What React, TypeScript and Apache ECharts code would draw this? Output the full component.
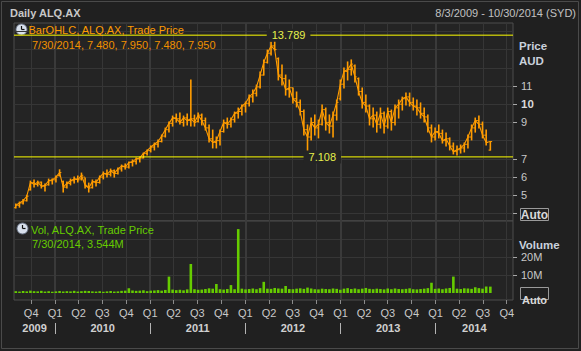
import React, { useEffect, useRef } from 'react';
import * as echarts from 'echarts';

const FONT = '"Liberation Sans", Arial, sans-serif';

const dates = [
  '2009-08-03','2009-08-17','2009-08-31','2009-09-14','2009-09-28','2009-10-12','2009-10-26','2009-11-09','2009-11-23','2009-12-07','2009-12-21',
  '2010-01-04','2010-01-18','2010-02-01','2010-02-15','2010-03-01','2010-03-15','2010-03-29','2010-04-12','2010-04-26','2010-05-10','2010-05-24','2010-06-07','2010-06-21','2010-07-05','2010-07-19','2010-08-02','2010-08-16','2010-08-30','2010-09-13','2010-09-27','2010-10-11','2010-10-25','2010-11-08','2010-11-22','2010-12-06','2010-12-20',
  '2011-01-03','2011-01-17','2011-01-31','2011-02-14','2011-02-28','2011-03-14','2011-03-28','2011-04-11','2011-04-25','2011-05-09','2011-05-23','2011-06-06','2011-06-20','2011-07-04','2011-07-18','2011-08-01','2011-08-15','2011-08-29','2011-09-12','2011-09-26','2011-10-10','2011-10-24','2011-11-07','2011-11-21','2011-12-05','2011-12-19',
  '2012-01-02','2012-01-16','2012-01-30','2012-02-13','2012-02-27','2012-03-12','2012-03-26','2012-04-09','2012-04-23','2012-05-07','2012-05-21','2012-06-04','2012-06-18','2012-07-02','2012-07-16','2012-07-30','2012-08-13','2012-08-27','2012-09-10','2012-09-24','2012-10-08','2012-10-22','2012-11-05','2012-11-19','2012-12-03','2012-12-17','2012-12-31',
  '2013-01-14','2013-01-28','2013-02-11','2013-02-25','2013-03-11','2013-03-25','2013-04-08','2013-04-22','2013-05-06','2013-05-20','2013-06-03','2013-06-17','2013-07-01','2013-07-15','2013-07-29','2013-08-12','2013-08-26','2013-09-09','2013-09-23','2013-10-07','2013-10-21','2013-11-04','2013-11-18','2013-12-02','2013-12-16','2013-12-30',
  '2014-01-13','2014-01-27','2014-02-10','2014-02-24','2014-03-10','2014-03-24','2014-04-07','2014-04-21','2014-05-05','2014-05-19','2014-06-02','2014-06-16','2014-06-30','2014-07-14','2014-07-30'
];

const opens = [
  4.32,4.45,4.58,4.70,5.30,5.70,5.60,5.72,5.50,5.58,5.80,
  5.85,6.08,5.75,5.45,5.65,5.80,5.90,5.90,6.00,5.50,5.42,5.75,5.70,6.00,6.20,6.15,6.35,6.20,6.45,6.60,6.55,6.80,6.85,7.00,7.05,7.30,
  7.45,7.65,7.80,7.95,8.25,8.60,8.95,9.25,9.20,9.00,9.25,9.10,9.20,9.05,9.40,9.10,8.70,8.10,7.90,8.00,8.50,9.00,8.90,9.15,9.50,9.60,
  9.90,10.05,10.40,10.60,10.95,11.60,12.30,12.80,13.20,12.50,11.60,11.40,10.80,10.90,10.30,10.10,9.60,8.60,8.20,9.00,8.70,8.90,9.70,9.00,8.80,9.40,10.30,
  11.10,11.80,11.90,12.10,11.40,10.70,10.10,9.90,9.20,9.40,8.90,9.50,8.80,9.60,9.00,9.80,10.00,10.30,10.40,10.10,9.90,9.80,9.50,9.30,8.70,8.20,
  8.50,8.40,8.00,8.10,7.70,7.40,7.50,7.60,7.80,8.20,8.70,9.10,8.90,8.30,7.48
];
const highs = [
  4.52,4.63,4.77,5.00,5.78,5.84,5.78,5.73,5.62,5.89,5.90,
  6.06,6.40,5.78,5.73,5.89,6.00,6.06,6.22,5.95,5.67,5.84,5.84,6.06,6.28,6.39,6.44,6.39,6.50,6.66,6.72,6.83,6.94,7.05,7.10,7.32,7.49,
  7.71,7.87,8.04,8.31,8.69,9.02,9.35,9.46,9.52,9.35,9.46,11.33,9.40,9.52,9.46,9.24,8.86,8.58,8.20,8.58,9.13,9.24,9.24,9.57,9.79,9.96,
  10.12,10.50,10.78,11.05,11.77,12.43,12.97,13.41,13.789,12.54,12.15,11.60,11.33,10.89,10.67,10.23,9.68,8.86,9.24,9.41,9.13,9.96,9.79,9.41,9.57,10.23,11.33,
  11.99,12.32,12.43,12.15,11.44,10.89,10.50,9.96,9.79,9.57,9.79,9.57,9.79,9.68,9.96,10.23,10.39,10.61,10.61,10.34,10.23,10.07,9.79,9.41,8.86,8.69,
  8.86,8.58,8.42,8.15,7.87,7.71,7.76,7.87,8.31,8.86,9.24,9.35,9.02,8.58,7.95
];
const lows = [
  4.30,4.35,4.52,4.69,5.29,5.45,5.51,5.40,5.24,5.56,5.62,
  5.73,6.06,5.18,5.40,5.57,5.67,5.73,5.84,5.40,5.18,5.40,5.51,5.67,5.90,6.00,6.06,6.00,6.17,6.33,6.44,6.50,6.61,6.72,6.83,7.05,7.21,
  7.38,7.49,7.65,7.93,8.20,8.47,8.80,9.02,8.91,8.80,8.86,8.80,8.80,9.02,8.86,8.58,7.93,7.60,7.60,7.76,8.47,8.69,8.75,9.02,9.24,9.41,
  9.57,9.90,10.12,10.45,10.89,11.60,12.26,12.70,12.97,11.33,11.05,10.50,10.39,10.07,9.85,9.41,8.31,7.108,8.04,8.31,8.15,8.86,8.58,8.42,8.20,9.13,10.23,
  10.89,11.33,11.60,11.22,10.50,9.79,9.57,8.86,8.75,8.47,8.69,8.42,8.69,8.58,8.86,9.24,9.68,9.96,9.90,9.68,9.41,9.24,9.02,8.47,7.93,8.04,
  8.15,7.87,7.71,7.49,7.27,7.21,7.32,7.38,7.60,8.04,8.47,8.69,8.15,7.76,7.48
];
const closes = [
  4.45,4.58,4.70,4.95,5.70,5.60,5.72,5.50,5.55,5.80,5.85,
  6.00,6.25,5.45,5.65,5.80,5.90,5.85,6.10,5.55,5.40,5.75,5.70,6.00,6.20,6.15,6.35,6.20,6.45,6.60,6.55,6.80,6.85,7.00,7.05,7.30,7.45,
  7.65,7.80,7.95,8.25,8.60,8.95,9.25,9.20,9.00,9.25,9.10,9.20,9.00,9.40,9.10,8.70,8.10,7.90,8.00,8.50,9.00,8.90,9.15,9.50,9.60,9.90,
  10.05,10.40,10.60,10.95,11.60,12.30,12.80,13.20,13.00,11.60,11.40,10.80,10.90,10.30,10.10,9.60,8.60,8.20,9.00,8.70,8.90,9.70,9.00,8.80,9.40,10.10,11.10,
  11.80,11.90,12.20,11.50,10.70,10.10,9.90,9.20,9.40,8.90,9.50,8.80,9.60,9.00,9.80,10.00,10.30,10.40,10.10,9.90,9.80,9.50,9.30,8.70,8.20,8.50,
  8.40,8.00,8.10,7.70,7.40,7.50,7.60,7.80,8.20,8.70,9.10,8.90,8.30,7.90,7.95
];
// volume in millions of shares
const volumes = [
  1.0,0.8,1.1,0.9,1.3,1.0,0.9,1.2,0.8,1.0,0.7,
  0.9,1.1,0.8,1.0,0.9,1.2,0.8,1.0,1.2,1.1,0.9,0.8,1.0,0.7,0.9,1.1,0.8,0.9,1.2,1.3,2.7,1.4,1.2,1.3,1.5,1.0,
  1.3,1.4,1.6,1.3,1.7,9.1,1.9,1.6,1.8,1.5,2.0,16.1,2.1,1.8,1.9,2.2,2.6,2.4,5.0,2.1,1.9,2.2,4.4,2.1,35.5,2.4,
  2.0,2.2,2.5,2.1,2.7,6.2,2.4,2.3,2.8,2.5,2.4,3.9,2.2,2.1,2.4,2.6,2.3,3.0,2.5,2.1,2.0,2.4,2.2,2.1,2.5,2.3,1.8,
  2.4,2.7,2.2,2.5,2.1,2.4,2.8,2.3,2.1,2.4,2.2,2.0,2.5,2.1,2.5,2.2,2.1,2.3,2.6,2.1,2.0,2.2,2.4,2.7,5.7,2.3,
  2.5,2.1,2.5,2.8,9.1,2.4,2.2,2.6,2.5,2.3,3.2,2.7,2.4,3.6,3.544
];

const quarterStarts = [
  '2009-10-01','2010-01-01','2010-04-01','2010-07-01','2010-10-01','2011-01-01','2011-04-01','2011-07-01','2011-10-01',
  '2012-01-01','2012-04-01','2012-07-01','2012-10-01','2013-01-01','2013-04-01','2013-07-01','2013-10-01',
  '2014-01-01','2014-04-01','2014-07-01','2014-10-01'
];
const yearStarts = ['2010-01-01','2011-01-01','2012-01-01','2013-01-01','2014-01-01'];
const yearLabels = ['2009','2010','2011','2012','2013','2014'];
const xRange = ['2009-07-27','2014-10-25'];
const priceRange = [3.59, 14.457];
const priceGridValues = [4,5,6,7,8,9,10,11,12,13,14];
const priceTickValues = [4,5,6,7,9,10,11];
const priceLabelValues = [5,6,7,9,10,11];
const volRange = [-3.89, 40];
const volGridValues = [10,20,30];
const volLabelValues = [10,20];

const ts = (s: string) => {
  const [y, m, d] = s.split('-').map(Number);
  return Date.UTC(y, m - 1, d);
};

const fmtDate = (s: string) => {
  const [y, m, d] = s.split('-').map(Number);
  return `${m}/${d}/${y}`;
};

export default function App() {
  const ref = useRef<HTMLDivElement>(null);
  useEffect(() => {
    document.body.style.margin = '0';
    document.body.style.background = '#202020';
    if (!ref.current) return;
    const chart = echarts.init(ref.current, undefined, { renderer: 'svg' });

    const xMin = ts(xRange[0]);
    const xMax = ts(xRange[1]);
    const qTs = quarterStarts.map(ts);
    const yTs = yearStarts.map(ts);
    const bounds = [xMin, ...yTs, xMax];
    const midYears = yearLabels.map((_, i) => (bounds[i] + bounds[i + 1]) / 2);

    const ohlc = dates.map((d, i) => [ts(d), opens[i], highs[i], lows[i], closes[i]]);
    const closeLine = dates.map((d, i) => [ts(d), closes[i]]);
    const volData = dates.map((d, i) => [ts(d), volumes[i]]);
    const last = dates.length - 1;
    const maxHigh = Math.max(...highs);
    const iMax = highs.indexOf(maxHigh);
    // lowest low since the peak
    const lowsAfter = lows.slice(iMax);
    const minLow = Math.min(...lowsAfter);
    const iMin = iMax + lowsAfter.indexOf(minLow);

    const gridLine = { show: true, lineStyle: { color: '#363636', width: 1 } };
    const yearLine = { show: true, lineStyle: { color: '#3a3a3a', width: 2 } };
    const xBase: any = {
      type: 'value', min: xMin, max: xMax,
      axisLine: { show: false, onZero: false },
      axisLabel: { show: false },
      splitLine: { show: false },
    };
    const labelColor = '#c8c8c8';
    const headColor = '#c9d1dc';
    const orange = '#ff9c00';
    const yellow = '#ffff00';

    const qFormatter = (v: number) => 'Q' + (Math.floor(new Date(v).getUTCMonth() / 3) + 1);
    const yFormatter = (v: number) => {
      let best = 0;
      midYears.forEach((m, i) => { if (Math.abs(m - v) < Math.abs(midYears[best] - v)) best = i; });
      return yearLabels[best];
    };

    const clock = (cx: number, cy: number) => ({
      type: 'group',
      children: [
        { type: 'circle', shape: { cx, cy, r: 5.5 }, style: { fill: '#d8e0ec', stroke: '#6a7486', lineWidth: 1 } },
        { type: 'line', shape: { x1: cx, y1: cy, x2: cx, y2: cy - 3.5 }, style: { stroke: '#111', lineWidth: 1.2 } },
        { type: 'line', shape: { x1: cx, y1: cy, x2: cx + 3, y2: cy }, style: { stroke: '#111', lineWidth: 1.2 } },
      ],
    });

    const levelSeries = (v: number) => ({
      type: 'line', xAxisIndex: 0, yAxisIndex: 0, data: [[xMin, v], [xMax, v]],
      symbol: 'none', silent: true, z: 4, color: yellow,
      lineStyle: { color: yellow, width: 1, type: 'solid' },
    });

    const option: any = {
      animation: false,
      backgroundColor: '#202020',
      textStyle: { fontFamily: FONT },
      grid: [
        { left: 14, top: 23, width: 499, height: 198, show: true, backgroundColor: '#242424', borderColor: '#4c4c4c', borderWidth: 1 },
        { left: 14, top: 221, width: 499, height: 79, show: true, backgroundColor: '#242424', borderColor: '#4c4c4c', borderWidth: 1 },
      ],
      xAxis: [
        { ...xBase, gridIndex: 0, position: 'bottom', axisTick: { show: false, customValues: qTs }, splitLine: gridLine },
        { ...xBase, gridIndex: 0, position: 'top', axisTick: { show: false, customValues: yTs }, splitLine: yearLine },
        {
          ...xBase, gridIndex: 1, position: 'bottom',
          axisTick: { show: true, customValues: qTs, length: 4, lineStyle: { color: '#8c8c8c' } },
          axisLabel: { show: true, customValues: qTs, formatter: qFormatter, color: labelColor, fontSize: 11, fontFamily: FONT, margin: 7 },
          splitLine: gridLine,
        },
        {
          ...xBase, gridIndex: 1, position: 'bottom',
          axisTick: { show: false, customValues: yTs },
          axisLabel: { show: true, customValues: midYears, formatter: yFormatter, color: '#d0d0d0', fontWeight: 'bold', fontSize: 11, fontFamily: FONT, margin: 22 },
          splitLine: yearLine,
        },
        {
          ...xBase, gridIndex: 1, position: 'bottom', offset: 23,
          axisTick: { show: true, customValues: yTs, length: 11, lineStyle: { color: '#b4b4b4' } },
        },
      ],
      yAxis: [
        {
          gridIndex: 0, type: 'value', position: 'right', min: priceRange[0], max: priceRange[1],
          axisLine: { show: false, onZero: false }, axisTick: { show: false, customValues: priceGridValues },
          axisLabel: { show: false }, splitLine: gridLine,
        },
        {
          gridIndex: 0, type: 'value', position: 'right', min: priceRange[0], max: priceRange[1],
          axisLine: { show: false, onZero: false },
          axisTick: { show: true, customValues: priceTickValues, length: 4, lineStyle: { color: '#a8a8a8' } },
          axisLabel: {
            show: true, customValues: priceLabelValues, margin: 8, color: labelColor, fontSize: 11, fontFamily: FONT,
            formatter: (v: number) => (v === 10 ? '{b|10}' : String(v)),
            rich: { b: { fontWeight: 'bold', color: '#d8d8d8', fontSize: 11.5, fontFamily: FONT } },
          },
          splitLine: { show: false },
        },
        {
          gridIndex: 1, type: 'value', position: 'right', min: volRange[0], max: volRange[1],
          axisLine: { show: false, onZero: false }, axisTick: { show: false, customValues: volGridValues },
          axisLabel: { show: false }, splitLine: gridLine,
        },
        {
          gridIndex: 1, type: 'value', position: 'right', min: volRange[0], max: volRange[1],
          axisLine: { show: false, onZero: false },
          axisTick: { show: true, customValues: volLabelValues, length: 4, lineStyle: { color: '#a8a8a8' } },
          axisLabel: {
            show: true, customValues: volLabelValues, margin: 8, color: labelColor, fontSize: 11, lineHeight: 11,
            fontFamily: FONT, formatter: (v: number) => v + 'M',
          },
          splitLine: { show: false },
        },
      ],
      series: [
        {
          type: 'custom', name: 'BarOHLC', xAxisIndex: 0, yAxisIndex: 0, data: ohlc,
          encode: { x: 0, y: [1, 2, 3, 4] }, silent: true, z: 2,
          renderItem: (params: any, api: any) => {
            const t = api.value(0);
            const o = api.coord([t, api.value(1)]);
            const h = api.coord([t, api.value(2)]);
            const l = api.coord([t, api.value(3)]);
            const c = api.coord([t, api.value(4)]);
            const x = o[0];
            const style = { stroke: orange, lineWidth: 1.6 };
            return {
              type: 'group',
              children: [
                { type: 'line', shape: { x1: x, y1: h[1] - 0.5, x2: x, y2: l[1] + 0.5 }, style },
                { type: 'line', shape: { x1: x - 1.8, y1: o[1], x2: x, y2: o[1] }, style: { stroke: orange, lineWidth: 1 } },
                { type: 'line', shape: { x1: x, y1: c[1], x2: x + 1.8, y2: c[1] }, style: { stroke: orange, lineWidth: 1 } },
              ],
            };
          },
        },
        {
          type: 'line', xAxisIndex: 0, yAxisIndex: 0, data: closeLine, symbol: 'none', silent: true, z: 3,
          lineStyle: { color: orange, width: 1.1 },
          markLine: {
            silent: true, symbol: ['none', 'none'], animation: false,
            data: [
              {
                yAxis: closes[last], lineStyle: { opacity: 0 },
                label: {
                  show: true, position: 'end', distance: 1, formatter: closes[last].toFixed(3),
                  backgroundColor: orange, color: '#000', fontWeight: 'bold', fontSize: 12, fontFamily: FONT,
                  padding: [1, 4, 0, 3], width: 56, lineHeight: 12, align: 'left',
                },
              },
            ],
          },
        },
        levelSeries(maxHigh),
        levelSeries(minLow),
        {
          type: 'line', xAxisIndex: 0, yAxisIndex: 0, data: closeLine, symbol: 'none', silent: true, z: 6,
          lineStyle: { opacity: 0 },
          markPoint: {
            silent: true, symbol: 'circle', symbolSize: 0.1, itemStyle: { color: 'rgba(0,0,0,0)' }, animation: false,
            label: {
              show: true, position: 'right', distance: 0, color: '#e6f04c', fontSize: 11, fontFamily: FONT,
              backgroundColor: '#242424', padding: [1, 5],
            },
            data: [
              { coord: [ts(dates[iMax]), maxHigh], label: { formatter: maxHigh.toFixed(3), offset: [-8, 0] } },
              { coord: [ts(dates[iMin]), minLow], label: { formatter: minLow.toFixed(3), offset: [-4, 0] } },
            ],
          },
        },
        {
          type: 'bar', name: 'Vol', xAxisIndex: 2, yAxisIndex: 2, data: volData, barWidth: 2.6, silent: true,
          itemStyle: { color: '#66cc00' }, z: 2,
          markLine: {
            silent: true, symbol: ['none', 'none'], animation: false,
            data: [
              {
                yAxis: volumes[last], lineStyle: { opacity: 0 },
                label: {
                  show: true, position: 'end', distance: 1, formatter: volumes[last].toFixed(3) + 'M',
                  backgroundColor: '#66cc00', color: '#fff', fontWeight: 'bold', fontSize: 12, fontFamily: FONT,
                  padding: [1, 4, 0, 3], width: 56, lineHeight: 11, align: 'left',
                },
              },
            ],
          },
        },
      ],
      graphic: [
        { type: 'text', x: 10, y: 13, style: { text: 'Daily ALQ.AX', fill: '#c8c8c8', font: `bold 11px ${FONT}`, verticalAlign: 'middle' } },
        { type: 'text', x: 576, y: 13, style: { text: `${fmtDate('2009-08-03')} - ${fmtDate('2014-10-30')} (SYD)`, fill: '#c0c0c0', font: `11px ${FONT}`, align: 'right', verticalAlign: 'middle' } },
        clock(21.5, 29.5),
        { type: 'text', x: 28.5, y: 30, z: 10, style: { text: 'BarOHLC, ALQ.AX, Trade Price', fill: orange, font: `11px ${FONT}`, verticalAlign: 'middle' } },
        { type: 'text', x: 32, y: 44.5, z: 10, style: { text: `${fmtDate(dates[last])}, ${opens[last].toFixed(3)}, ${highs[last].toFixed(3)}, ${lows[last].toFixed(3)}, ${closes[last].toFixed(3)}`, fill: '#f09000', font: `11px ${FONT}`, verticalAlign: 'middle' } },
        clock(22.5, 228.5),
        { type: 'text', x: 31, y: 229.5, z: 10, style: { text: 'Vol, ALQ.AX, Trade Price', fill: '#66cc00', font: `11px ${FONT}`, verticalAlign: 'middle' } },
        { type: 'text', x: 32, y: 244, z: 10, style: { text: `${fmtDate(dates[last])}, ${volumes[last].toFixed(3)}M`, fill: '#66cc00', font: `11px ${FONT}`, verticalAlign: 'middle' } },
        { type: 'text', x: 519, y: 46, style: { text: 'Price', fill: headColor, font: `bold 11.5px ${FONT}`, verticalAlign: 'middle' } },
        { type: 'text', x: 519, y: 61, style: { text: 'AUD', fill: headColor, font: `bold 11.5px ${FONT}`, verticalAlign: 'middle' } },
        { type: 'text', x: 519, y: 244.5, style: { text: 'Volume', fill: headColor, font: `bold 11.5px ${FONT}`, lineHeight: 12, verticalAlign: 'middle' } },
        { type: 'rect', shape: { x: 520.5, y: 208.5, width: 28, height: 12 }, style: { fill: 'none', stroke: '#9a9a9a', lineWidth: 1 } },
        { type: 'text', x: 534.5, y: 215, style: { text: 'Auto', fill: '#d8d8d8', font: `bold 12px ${FONT}`, align: 'center', verticalAlign: 'middle' } },
        { type: 'rect', shape: { x: 520.5, y: 287.5, width: 28, height: 12 }, style: { fill: 'none', stroke: '#9a9a9a', lineWidth: 1 } },
        { type: 'text', x: 534.5, y: 294, style: { text: 'Auto', fill: '#d8d8d8', font: `bold 11px ${FONT}`, align: 'center', verticalAlign: 'top' } },
        { type: 'rect', shape: { x: 1.5, y: 1.5, width: 577, height: 347 }, style: { fill: 'none', stroke: '#4a4a4a', lineWidth: 1 } },
      ],
    };

    chart.setOption(option);
    return () => chart.dispose();
  }, []);

  return <div ref={ref} style={{ position: 'fixed', left: 0, top: 0, width: 581, height: 351 }} />;
}
